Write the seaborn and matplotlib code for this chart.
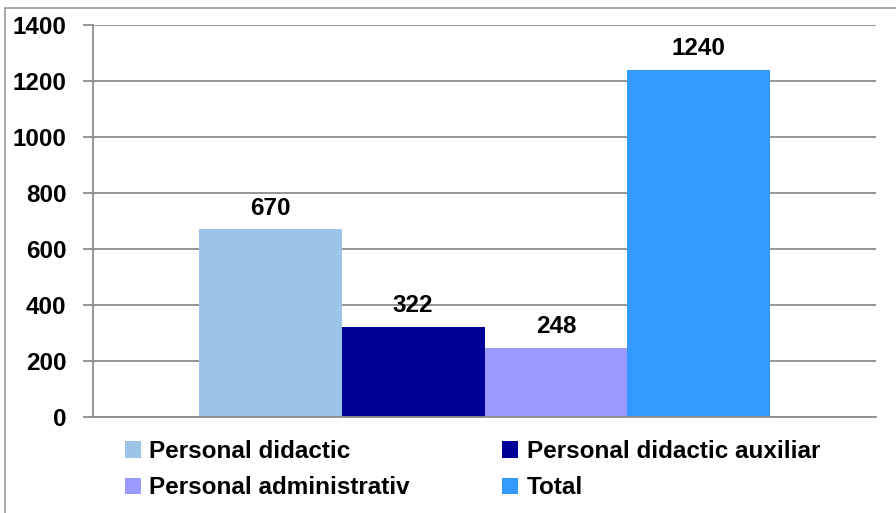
import pandas as pd
import matplotlib
matplotlib.use("Agg")
import matplotlib.pyplot as plt
import matplotlib.patches as mpatches
import seaborn as sns

# data
series = ['Personal didactic', 'Personal didactic auxiliar', 'Personal administrativ', 'Total']
values = [670, 322, 248, 1240]
colors = ['#9DC3E6', '#000099', '#9999FF', '#3399FF']
yticks = [0, 200, 400, 600, 800, 1000, 1200, 1400]

df = pd.DataFrame({'grup': [''] * len(series), 'serie': series, 'valoare': values})

sns.set_style('white')
plt.rcParams['font.family'] = ['Liberation Sans', 'DejaVu Sans']
plt.rcParams['font.weight'] = 'bold'
plt.rcParams['text.color'] = 'black'
plt.rcParams['ytick.labelcolor'] = 'black'

fig = plt.figure(figsize=(8.96, 5.13), dpi=100)
ax = fig.add_axes([93 / 896, 96 / 513, 783 / 896, 392 / 513])

sns.barplot(data=df, x='grup', y='valoare', hue='serie', hue_order=series,
            palette=colors, saturation=1, width=0.8, dodge=True,
            linewidth=0, edgecolor='none', ax=ax)

for c in ax.containers:
    ax.bar_label(c, fmt='%d', padding=7, fontsize=17.5, fontweight='bold', color='black')

ax.set_xlim(-0.5485, 0.5485)
ax.set_ylim(0, 1400)
ax.set_yticks(yticks)
ax.set_yticklabels([str(t) for t in yticks], fontsize=17.5, fontweight='bold', color='black')
ax.set_xticks([])
ax.set_xlabel('')
ax.set_ylabel('')
ax.yaxis.grid(True, color='#8c8c8c', linewidth=1.3)
ax.set_axisbelow(True)
ax.tick_params(axis='y', length=7, width=1.3, color='#8c8c8c', pad=12, left=True)
for side in ['top', 'right']:
    ax.spines[side].set_visible(False)
for side in ['left', 'bottom']:
    ax.spines[side].set_color('#8c8c8c')
    ax.spines[side].set_linewidth(1.3)

# legend, row-wise order
handles, labels = ax.get_legend_handles_labels()
ax.legend_.remove()
order = [0, 2, 1, 3]
leg = fig.legend([handles[i] for i in order], [labels[i] for i in order],
                 ncol=2, loc='upper left', bbox_to_anchor=(125 / 896, 1 - 440 / 513),
                 frameon=False, prop={'weight': 'bold', 'size': 17.5},
                 handlelength=0.65, handleheight=0.65, handletextpad=0.35,
                 columnspacing=3.8, labelspacing=0.55, borderpad=0, borderaxespad=0)
for h in leg.legend_handles:
    h.set_linewidth(0)
for t in leg.get_texts():
    t.set_color('black')

# chart border
fig.patches.append(mpatches.Rectangle((5 / 896, -0.1), 1.1, 1.1 - 8 / 513,
                                      transform=fig.transFigure, fill=False,
                                      edgecolor='#999999', linewidth=1.2))

fig.savefig('out.png', dpi=100)
